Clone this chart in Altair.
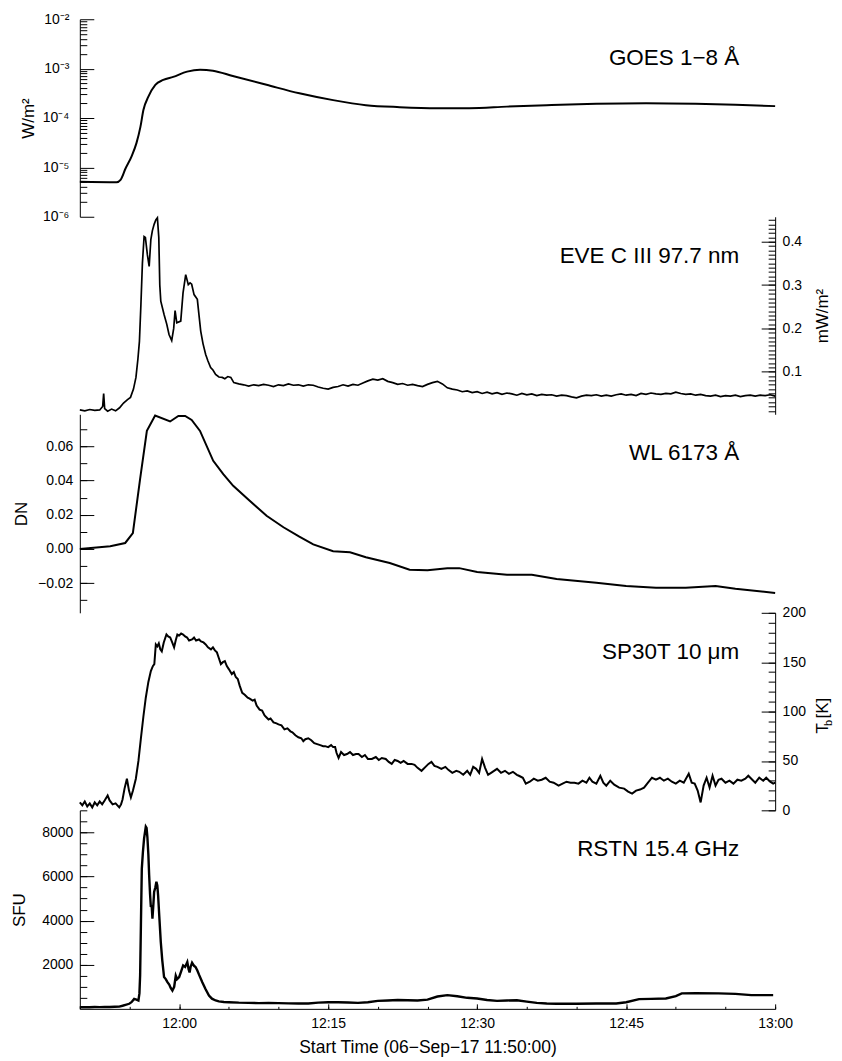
import altair as alt
import pandas as pd

FONT = "Liberation Sans"
W = 697

# ---------------- data (minutes after 11:50 UT) ----------------
goes_t = [0, 3.7, 4.1, 4.6, 5.2, 5.7, 6.1, 6.4, 6.9, 7.6, 8.4, 9.4, 10.8, 12.1, 13.4, 15.4,
          18.8, 22.1, 25.5, 28.8, 32.2, 36, 39.2, 43, 47, 52, 57, 62, 66, 70]
goes_v = [5.1e-6, 5.0e-6, 5.6e-6, 9.5e-6, 1.66e-5, 3.1e-5, 6.6e-5, 1.45e-4, 2.7e-4, 4.7e-4,
          5.9e-4, 6.8e-4, 8.7e-4, 9.5e-4, 9.1e-4, 7.1e-4, 4.7e-4, 3.16e-4, 2.3e-4, 1.82e-4,
          1.66e-4, 1.58e-4, 1.58e-4, 1.70e-4, 1.82e-4, 1.95e-4, 2.0e-4, 1.95e-4, 1.86e-4, 1.74e-4]

eve_t = [0, 0.5, 1.0, 1.5, 2.0, 2.3, 2.4, 2.5, 2.8, 3.2, 3.6, 4.0, 4.4, 4.8, 5.1, 5.4, 5.65,
         5.85, 6.0, 6.15, 6.3, 6.47, 6.6, 6.8, 6.98, 7.15, 7.3, 7.48, 7.65, 7.81, 7.95, 8.05,
         8.15, 8.48, 8.75, 8.98, 9.25, 9.45, 9.59, 9.76, 10.16, 10.39, 10.66, 10.92, 11.1, 11.26,
         11.5, 11.83, 12.0, 12.17, 12.4, 12.67, 12.9, 13.17, 13.4, 13.67, 14.0, 14.34, 14.6,
         14.9, 15.2, 15.5, 16.0, 16.5, 17.0, 17.5, 18.0, 18.5, 19.0, 19.5, 20.0, 20.5, 21.0,
         21.5, 22.0, 22.5, 23.0, 23.5, 24.0, 24.5, 25.0, 25.5,
         26.0, 26.5, 27.0, 27.5, 28.0, 28.5, 29.0, 29.5, 30.0, 30.5, 31.0, 31.5, 32.0, 32.5,
         33.0, 33.5, 34.0, 34.5, 35.0, 35.5, 36.0, 36.5, 37.0, 37.5, 38.0, 38.5, 39.0, 39.5,
         40.0, 40.5, 41.0, 41.5, 42.0, 42.5, 43.0, 43.5, 44.0, 44.5, 45.0, 45.5, 46.0, 46.5,
         47.0, 47.5, 48.0, 48.5, 49.0, 49.5, 50.0, 50.5, 51.0, 51.5, 52.0, 52.5, 53.0, 53.5,
         54.0, 54.5, 55.0, 55.5, 56.0, 56.5, 57.0, 57.5, 58.0, 58.5, 59.0, 59.5, 60.0, 60.5,
         61.0, 61.5, 62.0, 62.5, 63.0, 63.5, 64.0, 64.5, 65.0, 65.5, 66.0, 66.5, 67.0, 67.5,
         68.0, 68.5, 69.0, 69.5, 70.0]
eve_v = [0.012, 0.010, 0.013, 0.011, 0.012, 0.020, 0.050, 0.015, 0.009, 0.014, 0.010, 0.017,
         0.028, 0.036, 0.041, 0.060, 0.087, 0.130, 0.170, 0.255, 0.350, 0.412, 0.410, 0.370,
         0.343, 0.405, 0.425, 0.440, 0.450, 0.455, 0.410, 0.300, 0.263, 0.232, 0.210, 0.186,
         0.172, 0.200, 0.241, 0.213, 0.217, 0.282, 0.324, 0.301, 0.305, 0.302, 0.278, 0.267,
         0.230, 0.194, 0.165, 0.140, 0.125, 0.110, 0.104, 0.094, 0.088, 0.087, 0.084, 0.089,
         0.087, 0.075, 0.072, 0.070, 0.067, 0.070, 0.068, 0.071, 0.069, 0.066, 0.070, 0.068,
         0.072, 0.069, 0.070, 0.067, 0.070, 0.069, 0.065, 0.062, 0.060, 0.064,
         0.066, 0.070, 0.067, 0.071, 0.069, 0.074, 0.079, 0.083, 0.081, 0.084, 0.078, 0.075,
         0.071, 0.073, 0.069, 0.071, 0.068, 0.066, 0.071, 0.075, 0.078, 0.072, 0.063, 0.060,
         0.058, 0.054, 0.056, 0.052, 0.054, 0.050, 0.053, 0.049, 0.052, 0.048, 0.051, 0.049,
         0.046, 0.050, 0.047, 0.049, 0.045, 0.048, 0.046, 0.047, 0.044, 0.046, 0.045, 0.042,
         0.040, 0.044, 0.046, 0.045, 0.047, 0.044, 0.046, 0.044, 0.047, 0.049, 0.046, 0.048,
         0.045, 0.050, 0.048, 0.051, 0.049, 0.048, 0.050, 0.049, 0.053, 0.050, 0.048, 0.049,
         0.046, 0.048, 0.045, 0.044, 0.046, 0.043, 0.045, 0.044, 0.046, 0.043, 0.045, 0.046,
         0.044, 0.046, 0.045, 0.047, 0.044]

wl_t = [0, 3.06, 4.57, 5.34, 6.07, 6.75, 7.58, 9.09, 9.92, 10.6, 11.26, 12.1, 13.43, 14.44,
        15.44, 17.1, 18.8, 20.5, 22.1, 23.5, 25.5, 27.2, 28.8, 31.2, 33.2, 35.0, 37.0, 38.2,
        40.0, 43.0, 45.5, 48.0, 52.0, 55.0, 58.0, 61.0, 64.0, 66.0, 70.0]
wl_v = [0.000, 0.0016, 0.0035, 0.0093, 0.041, 0.069, 0.078, 0.0745, 0.0777, 0.0777, 0.0754,
        0.069, 0.0515, 0.0437, 0.0369, 0.0282, 0.0194, 0.0127, 0.0072, 0.0027, -0.0013,
        -0.0019, -0.0048, -0.0082, -0.0121, -0.0124, -0.0113, -0.0112, -0.0134, -0.0150,
        -0.0151, -0.0175, -0.0198, -0.0216, -0.0227, -0.0227, -0.0216, -0.0233, -0.0257]

sp_t = [0.0, 0.25, 0.5, 0.75, 1.0, 1.25, 1.5, 1.75, 2.0, 2.25, 2.5, 2.8, 3.0, 3.3, 3.6, 3.97,
        4.15, 4.3, 4.5, 4.74, 4.95, 5.14, 5.35, 5.64, 5.9, 6.14, 6.4, 6.64, 6.9, 7.15, 7.35,
        7.5, 7.65, 7.8, 7.95, 8.1, 8.25, 8.45, 8.72, 8.9, 9.1, 9.3, 9.49, 9.65, 9.82, 10.0,
        10.2, 10.4, 10.6, 10.8, 11.0, 11.3, 11.5, 11.7, 12.0, 12.2, 12.45, 12.67, 12.9, 13.2,
        13.4, 13.6, 13.8, 14.0, 14.2, 14.4, 14.6, 14.8, 15.0, 15.3, 15.5, 15.7, 15.9, 16.1,
        16.35, 16.6, 16.9, 17.1, 17.4, 17.6, 17.8, 18.1, 18.35, 18.6, 18.8, 19.0, 19.2, 19.5,
        19.8, 20.0, 20.3, 20.6, 20.9, 21.2, 21.4, 21.7, 22.0, 22.3, 22.5, 22.7, 23.0, 23.3,
        23.6, 23.9, 24.2, 24.5, 24.7, 25.0, 25.3, 25.5, 25.7, 25.85, 26.05, 26.3, 26.6, 26.9,
        27.2, 27.5, 27.8, 28.06, 28.4, 28.7, 29.0, 29.4, 29.8, 30.1, 30.4, 30.8, 31.1, 31.4,
        31.7, 32.0, 32.3, 32.6, 33.0, 33.4, 33.7, 34.0, 34.4, 34.8, 35.1, 35.4, 35.7, 36.0,
        36.4, 36.8, 37.1, 37.5, 37.9, 38.2, 38.6, 39.0, 39.3, 39.6, 39.9, 40.2, 40.5, 40.8,
        41.1, 41.4, 41.7, 42.0, 42.4, 42.8, 43.2, 43.6, 44.0, 44.2, 44.6, 44.9, 45.3, 45.7,
        46.1, 46.5, 46.9, 47.3, 47.7, 48.2, 48.6, 49.0, 49.4, 49.8, 50.2, 50.6, 51.0, 51.3,
        51.6, 52.0, 52.4, 52.7, 53.0, 53.4, 53.8, 54.3, 54.8, 55.2, 55.6, 56.0, 56.4, 56.8,
        57.2, 57.6, 58.0, 58.4, 58.8, 59.2, 59.6, 60.0, 60.4, 60.8, 61.3, 61.6, 61.9, 62.2,
        62.5, 62.8, 63.1, 63.4, 63.7, 64.0, 64.3, 64.6, 65.0, 65.4, 65.8, 66.2, 66.6, 67.0,
        67.3, 67.7, 68.0, 68.4, 68.8, 69.1, 69.5, 69.8, 70.0]
sp_v = [8, 5, 9, 4, 7, 3, 8, 5, 9, 6, 10, 15, 10, 6, 7, 3,
        6, 11, 22, 32, 20, 13, 20, 32, 50, 72, 95, 114, 130, 141, 146,
        148, 168, 166, 169, 163, 161, 170, 178, 176, 175, 170, 165, 172, 178, 177,
        179, 178, 176, 175, 172, 173, 175, 172, 173, 171, 170, 168, 165, 163,
        165, 162, 160, 154, 148, 150, 151, 146, 143, 138, 140, 135, 133, 126,
        119, 117, 114, 113, 111, 112, 106, 102, 101, 96, 94, 92, 93, 89,
        88, 87, 86, 82, 83, 80, 79, 76, 74, 73, 70, 72, 73, 71,
        68, 67, 66, 65, 65, 64, 66, 64, 64, 58, 53, 59, 56, 57,
        59, 56, 57, 57, 54, 56, 52, 52, 54, 51, 53, 52, 49, 47,
        51, 50, 48, 50, 47, 47, 46, 43, 40, 44, 47, 49, 45, 44,
        42, 44, 41, 38, 40, 39, 36, 40, 36, 44, 42, 38, 52, 43,
        36, 38, 40, 42, 38, 40, 37, 39, 36, 35, 33, 27, 29, 32,
        30, 31, 33, 29, 28, 25, 27, 29, 28, 28, 27, 30, 28, 33,
        29, 27, 35, 28, 25, 30, 26, 23, 22, 19, 17, 20, 21, 23,
        28, 33, 31, 33, 30, 32, 29, 27, 30, 28, 37, 28, 27, 20,
        8, 25, 33, 23, 35, 25, 31, 32, 28, 30, 27, 31, 30, 32,
        35, 31, 28, 33, 30, 33, 29, 27, 28]

rstn_t = [0.0, 0.5, 1.0, 1.5, 2.0, 2.5, 3.0, 3.5, 3.97, 4.3, 4.6, 4.97, 5.2, 5.47, 5.7, 5.9,
          6.0, 6.07, 6.15, 6.24, 6.35, 6.47, 6.64, 6.72, 6.8, 6.9, 6.98, 7.07, 7.15, 7.23, 7.31,
          7.4, 7.48, 7.6, 7.71, 7.8, 7.88, 8.0, 8.15, 8.3, 8.48, 8.65, 8.82, 9.0, 9.15, 9.32,
          9.5, 9.66, 9.8, 10.0, 10.2, 10.4, 10.6, 10.82, 10.95, 11.05, 11.15, 11.3, 11.5, 11.65,
          11.83, 12.0, 12.33, 12.65, 13.0, 13.3, 13.67, 14.0, 14.5, 15.0, 16.0, 17.0, 18.0,
          19.0, 20.0, 21.0, 22.0, 23.0, 24.0, 25.0, 26.0, 27.0, 28.0, 29.0, 30.0, 31.0, 32.0,
          33.0, 34.0, 35.0, 36.0, 37.0, 38.0, 39.0, 40.0, 41.0, 42.0, 43.0, 44.0, 45.0, 46.0,
          47.0, 48.0, 50.0, 52.0, 54.0, 55.0, 56.3, 57.5, 59.0, 60.0, 60.6, 62.0, 64.3, 66.0,
          67.6, 69.8]
rstn_v = [70, 80, 75, 85, 80, 90, 85, 95, 100, 140, 180, 230, 300, 450, 420, 380,
          700, 1510, 3800, 6360, 7100, 7730, 8260, 8200, 7800, 7000, 6060, 5200, 4620, 4700, 4090,
          4700, 5300, 5500, 5760, 5600, 5150, 4200, 3030, 2200, 1440, 1350, 1210, 1100, 950, 830,
          1000, 1510, 1350, 1440, 1700, 1970, 1900, 2120, 1800, 1650, 1900, 2090, 1950, 1900,
          1740, 1550, 1210, 900, 600, 460, 380, 340, 310, 300, 280, 270, 260,
          265, 260, 250, 240, 245, 280, 300, 300, 290, 270, 300, 360, 380, 400,
          390, 380, 420, 560, 620, 570, 500, 470, 400, 360, 380, 390, 330, 270,
          240, 230, 230, 240, 240, 300, 440, 450, 470, 580, 700, 710, 700, 680,
          620, 620]

panel_labels = ["GOES 1\u22128 \u00c5", "EVE C III 97.7 nm", "WL 6173 \u00c5",
                "SP30T 10 \u03bcm", "RSTN 15.4 GHz"]
y_titles = ["W/m\u00b2", "mW/m\u00b2", "DN", None, "SFU"]
tb_title_parts = ["T", "b", "[K]"]
x_title = "Start Time (06\u2212Sep\u221217 11:50:00)"

goes_major = [1e-6, 1e-5, 1e-4, 1e-3, 1e-2]
goes_labels = ["10\u207b\u2076", "10\u207b\u2075", "10\u207b\u2074", "10\u207b\u00b3", "10\u207b\u00b2"]
goes_minor = [m * d for d in [1e-6, 1e-5, 1e-4, 1e-3] for m in range(2, 10)]
eve_major = [0.1, 0.2, 0.3, 0.4]
eve_minor = [round(0.01 * i, 2) for i in range(1, 46)]
wl_major = [-0.02, 0.0, 0.02, 0.04, 0.06]
wl_minor = [round(0.01 * i, 2) for i in range(-3, 8)]
sp_major = [0, 50, 100, 150, 200]
sp_minor = list(range(0, 201, 10))
rstn_major = [2000, 4000, 6000, 8000]
rstn_minor = list(range(500, 9001, 500))
x_major = [10, 25, 40, 55, 70]
x_minor = list(range(0, 71, 5))

goes_expr = "[" + ",".join("'%s'" % s for s in goes_labels) + "][round(log(datum.value)/LN10)+6]"
x_expr = "timeFormat(datetime(2017, 8, 6, 11, 50 + datum.value), '%H:%M')"


def make_panel(t, v, height, ydom, side, major, minor, label, title, title_x,
               fmt=None, expr=None, log=False, interp="linear", stroke=1.8,
               bottom=False, label_pad=7, extra=None):
    df = pd.DataFrame({"t": t, "v": v})
    xs = alt.Scale(domain=[0, 70], nice=False, zero=False)
    if log:
        ys = alt.Scale(type="log", domain=ydom, nice=False)
    else:
        ys = alt.Scale(domain=ydom, nice=False, zero=False)

    akw = dict(orient=side, values=major, ticks=False, tickSize=0, domain=True,
               labelPadding=label_pad, grid=False, titleY=height / 2, titleX=title_x,
               titleAngle=270, titleAlign="center", titleBaseline="middle")
    akw["title"] = title if title else None
    if fmt:
        akw["format"] = fmt
    if expr:
        akw["labelExpr"] = expr
    ax_label = alt.Axis(**akw)
    ax_major = alt.Axis(orient=side, values=major, labels=False, domain=False, ticks=True,
                        tickSize=14, offset=-14, grid=False, title=None)
    ax_minor = alt.Axis(orient=side, values=minor, labels=False, domain=False, ticks=True,
                        tickSize=7, offset=-7, grid=False, title=None)

    if bottom:
        xa = alt.Axis(orient="bottom", values=x_major, ticks=False, tickSize=0, domain=True,
                      labelExpr=x_expr, labelPadding=8, labelFlush=False, grid=False,
                      title=x_title, titlePadding=8, titleFontSize=17.5)
        xb = alt.Axis(orient="bottom", values=x_major, labels=False, domain=False,
                      tickSize=5, offset=-5, grid=False, title=None)
        xc = alt.Axis(orient="bottom", values=x_minor, labels=False, domain=False,
                      tickSize=2.5, offset=-2.5, grid=False, title=None)
    else:
        xa = xb = xc = None

    base = alt.Chart(df)
    line = base.mark_line(color="black", strokeWidth=stroke, interpolate=interp).encode(
        x=alt.X("t:Q", scale=xs, axis=xa), y=alt.Y("v:Q", scale=ys, axis=ax_label))
    hid1 = base.mark_line(strokeOpacity=0).encode(
        x=alt.X("t:Q", scale=xs, axis=xb), y=alt.Y("v:Q", scale=ys, axis=ax_major))
    hid2 = base.mark_line(strokeOpacity=0).encode(
        x=alt.X("t:Q", scale=xs, axis=xc), y=alt.Y("v:Q", scale=ys, axis=ax_minor))
    txt = alt.Chart(alt.Data(values=[{"s": label}])).mark_text(
        align="right", baseline="alphabetic", fontSize=22.5, font=FONT, color="black"
    ).encode(x=alt.value(661), y=alt.value(46), text="s:N")
    layers = [line, hid1, hid2, txt]
    if extra:
        layers += extra
    return alt.layer(*layers).resolve_axis(y="independent", x="independent").properties(
        width=W, height=height)


tb_layers = []
for s, xv, yv, fs in zip(tb_title_parts, [745, 751, 745], [121, 113.5, 106], [17, 11, 17]):
    tb_layers.append(
        alt.Chart(alt.Data(values=[{"s": s}])).mark_text(
            angle=270, align="left", baseline="middle", fontSize=fs, font=FONT, color="black"
        ).encode(x=alt.value(xv), y=alt.value(yv), text="s:N"))

p1 = make_panel(goes_t, goes_v, 198, [1e-6, 1e-2], "left", goes_major, goes_minor,
                panel_labels[0], y_titles[0], -51, expr=goes_expr, log=True,
                interp="monotone", stroke=2.0, label_pad=11)
p2 = make_panel(eve_t, eve_v, 198, [0.002, 0.4575], "right", eve_major, eve_minor,
                panel_labels[1], y_titles[1], 47, fmt=".1f", stroke=1.7)
p3 = make_panel(wl_t, wl_v, 199, [-0.0373, 0.0787], "left", wl_major, wl_minor,
                panel_labels[2], y_titles[2], -58, fmt=".2f", stroke=2.0)
p4 = make_panel(sp_t, sp_v, 198, [0, 200], "right", sp_major, sp_minor,
                panel_labels[3], None, 50, fmt="d", stroke=2.0, extra=tb_layers)
p5 = make_panel(rstn_t, rstn_v, 199, [0, 9000], "left", rstn_major, rstn_minor,
                panel_labels[4], y_titles[4], -60, fmt="d", stroke=2.4, bottom=True)

chart = alt.vconcat(p1, p2, p3, p4, p5, spacing=0, bounds="flush").resolve_scale(
    x="independent", y="independent"
).properties(padding={"left": 3, "top": 3, "right": 0, "bottom": 0}).configure_view(
    stroke=None
).configure_axis(
    labelFont=FONT, titleFont=FONT, labelFontSize=14, titleFontSize=17,
    labelColor="black", titleColor="black", titleFontWeight="normal",
    domainColor="black", tickColor="black", domainWidth=1, tickWidth=1
)

chart.save("out.html", embed_options={"renderer": "svg", "actions": False})
